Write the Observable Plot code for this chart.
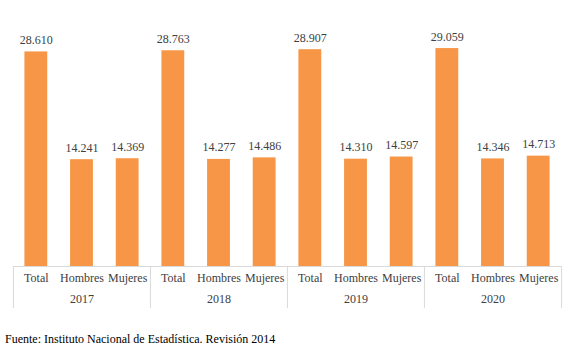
<!DOCTYPE html>
<html>
<head>
<meta charset="utf-8">
<script src="https://cdn.jsdelivr.net/npm/d3@7"></script>
<script src="https://cdn.jsdelivr.net/npm/@observablehq/plot@0.6"></script>
<style>
  html, body { margin: 0; padding: 0; background: white; }
  #caption { font-family: "Liberation Serif", serif; font-size: 12px; line-height: 14px; color: #000; padding: 6px 0 0 5px; }
</style>
</head>
<body>
<div id="chart"></div>
<div id="caption">Fuente: Instituto Nacional de Estadística. Revisión 2014</div>
<script>
const years = ["2017", "2018", "2019", "2020"];
const categories = ["Total", "Hombres", "Mujeres"];
const total = [28.610, 28.763, 28.907, 29.059];
const hombres = [14.241, 14.277, 14.310, 14.346];
const mujeres = [14.369, 14.486, 14.597, 14.713];

const series = { Total: total, Hombres: hombres, Mujeres: mujeres };
const data = [];
years.forEach((yr, i) => {
  categories.forEach(c => data.push({ year: yr, cat: c, value: series[c][i] }));
});

const W = 578, ML = 12, MR = 16;
const halfStep = (W - ML - MR) / years.length / categories.length / 2;
const leftSeps = years.map(y => ({ year: y, cat: categories[0] }));
const rightSeps = [{ year: years[years.length - 1], cat: categories[categories.length - 1] }];

const chart = Plot.plot({
  width: W,
  height: 326,
  marginLeft: ML,
  marginRight: MR,
  marginTop: 26,
  marginBottom: 60,
  style: { fontFamily: "Liberation Serif", fontSize: "12px", color: "#404040", background: "white" },
  fx: { domain: years, padding: 0, label: null },
  x: { domain: categories, paddingInner: 0.5, paddingOuter: 0.25, round: false, label: null },
  y: { domain: [0, 32], axis: null },
  marks: [
    Plot.barY(data, { fx: "year", x: "cat", y: "value", fill: "#F79646" }),
    Plot.text(data, { fx: "year", x: "cat", y: "value", text: d => d.value.toFixed(3), dy: -8, lineAnchor: "bottom", fill: "#404040" }),
    Plot.ruleY([0], { stroke: "#d9d9d9" }),
    Plot.ruleX(leftSeps, { fx: "year", x: "cat", y1: 0, y2: -5.6, dx: -halfStep, stroke: "#d9d9d9" }),
    Plot.ruleX(rightSeps, { fx: "year", x: "cat", y1: 0, y2: -5.6, dx: halfStep, stroke: "#d9d9d9" }),
    Plot.axisX({ tickSize: 0, tickPadding: 7, label: null }),
    Plot.axisFx({ anchor: "bottom", tickSize: 0, tickPadding: 28, label: null })
  ]
});
document.getElementById("chart").appendChild(chart);
</script>
</body>
</html>
